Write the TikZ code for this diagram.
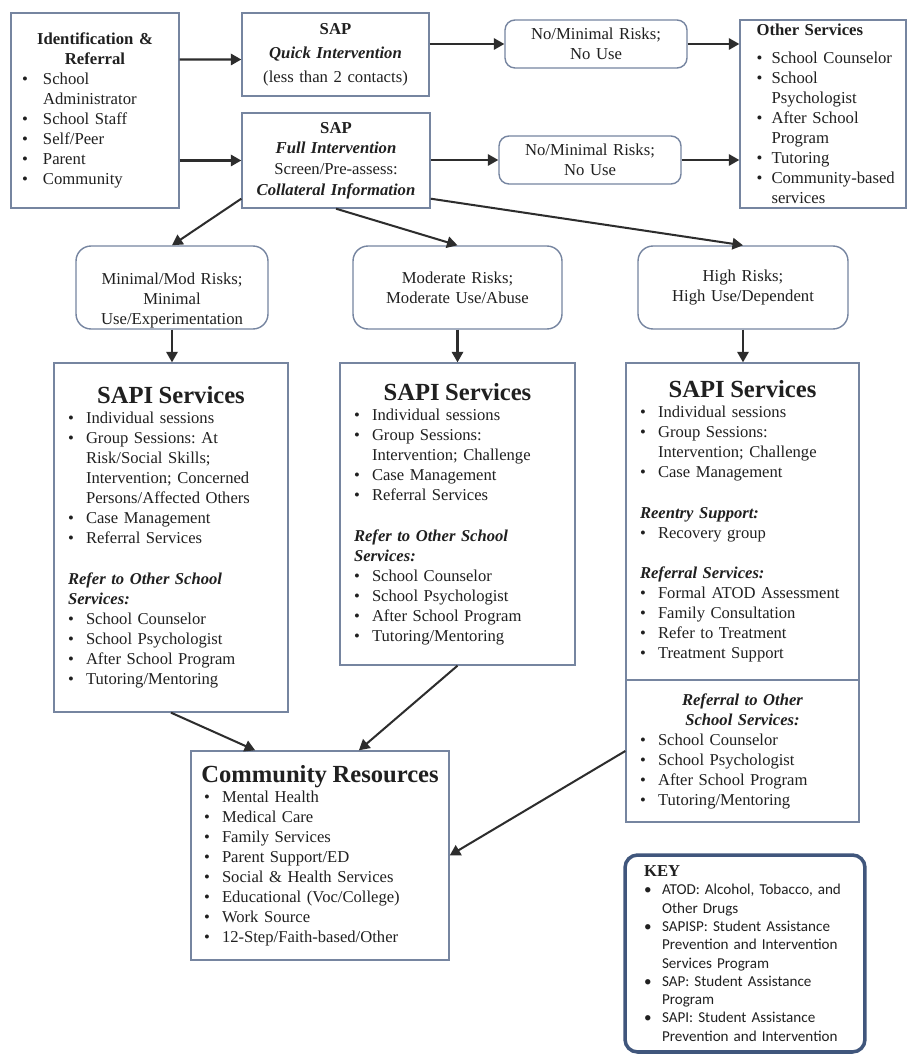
\documentclass[tikz,border=0pt]{standalone}
\usepackage{fontspec}
\setmainfont{Liberation Serif}
\newfontfamily\keyfont{Carlito}
\usetikzlibrary{arrows,arrows.meta}
\usetikzlibrary{calc}
\definecolor{pfeil}{RGB}{45,45,45}
\definecolor{rahmen}{RGB}{118,133,160}
\definecolor{keyrahmen}{RGB}{64,86,124}
\definecolor{schrift}{RGB}{32,32,32}

\newcommand{\itm}[1][0.36cm]{\makebox[#1][l]{\textbullet}}
\newcommand{\hd}[1]{\hspace*{-\leftskip}\makebox[\linewidth]{#1}}
\newcommand{\titel}{\fontsize{14}{16}\selectfont\bfseries}
\newcommand{\fklein}{\fontsize{9.5}{11.38}\selectfont}
\newcommand{\fnorm}{\fontsize{9.45}{11.38}\selectfont}
\newcommand{\fkey}{\keyfont\fontsize{8.6}{10.4}\selectfont}

\tikzset{
  kasten/.style={draw=rahmen, line width=0.8pt, fill=white, inner sep=0pt, align=left, font=\fnorm},
  rkasten/.style={kasten, rounded corners=0.2cm, align=center, font=\fklein},
  keykasten/.style={kasten, draw=keyrahmen, line width=2pt, rounded corners=0.25cm, font=\fkey},
  lm/.style={execute at begin node={\leftskip=#1\relax}},
  verbinder/.style={pfeil, line width=1.15pt, -{Triangle[length=6pt,width=6.5pt]}},
}

\begin{document}
\frenchspacing
\begin{tikzpicture}[x=0.02cm, y=-0.02cm, text=schrift]

	\fill[white] (0,0) rectangle (909,1057);
	\useasboundingbox (0,0) rectangle (909,1057);

	% obere Reihe
	\node[kasten, font=\fklein, lm=0.22cm, text width=3.36cm, minimum height=3.9cm] (ident) at (95,110.5) {%
		\hd{\textbf{Identification \&}}\\
		\hd{\textbf{Referral}}\\
		\itm[0.42cm]School\\
		\hspace*{0.42cm}Administrator\\
		\itm[0.42cm]School Staff\\
		\itm[0.42cm]Self/Peer\\
		\itm[0.42cm]Parent\\
		\itm[0.42cm]Community};
	\node[kasten, align=center, font=\fontsize{9.5}{13.6}\selectfont, text width=3.74cm, minimum height=1.66cm] (quick) at (335.5,54.5) {%
		\textbf{SAP}\\
		\textbf{\textit{Quick Intervention}}\\
		(less than 2 contacts)};
	\node[kasten, align=center, font=\fontsize{9.5}{11.8}\selectfont, text width=3.76cm, minimum height=1.9cm] (full) at (336,160.5) {%
		\textbf{SAP}\\
		\textbf{\textit{Full Intervention}}\\
		Screen/Pre-assess:\\
		\textbf{\textit{Collateral Information}}};
	\node[rkasten, text width=3.64cm, minimum height=0.96cm] (nomin1) at (596,44) {No/Minimal Risks;\\ No Use};
	\node[rkasten, text width=3.64cm, minimum height=0.96cm] (nomin2) at (590,160) {No/Minimal Risks;\\ No Use};
	\node[kasten, font=\fklein, lm=0.33cm, text width=3.32cm, minimum height=3.76cm] (other) at (823,114) {%
		\textbf{Other Services}\\[4.5pt]
		\itm[0.3cm]School Counselor\\
		\itm[0.3cm]School\\
		\hspace*{0.3cm}Psychologist\\
		\itm[0.3cm]After School\\
		\hspace*{0.3cm}Program\\
		\itm[0.3cm]Tutoring\\
		\itm[0.3cm]Community-based\\
		\hspace*{0.3cm}services};

	% Risiko-Stufen
	\node[rkasten, rounded corners=0.3cm, text width=3.84cm, minimum height=1.66cm] (mild) at (172,287.5) {%
		\rule{0pt}{21.5pt}Minimal/Mod Risks;\\ Minimal\\ Use/Experimentation};
	\node[rkasten, rounded corners=0.3cm, text width=4.18cm, minimum height=1.66cm] (moder) at (457.5,287.5) {Moderate Risks;\\ Moderate Use/Abuse};
	\node[rkasten, rounded corners=0.3cm, text width=4.2cm, minimum height=1.66cm] (high) at (743,287.5) {High Risks;\\ High Use/Dependent};

	% SAPI
	\node[kasten, lm=0.28cm, text width=4.68cm, minimum height=6.98cm] (sapiA) at (171,537.5) {%
		\hd{\titel SAPI Services}\\
		\itm Individual sessions\\
		\itm Group Sessions: At\\
		\hspace*{0.36cm}Risk/Social Skills;\\
		\hspace*{0.36cm}Intervention; Concerned\\
		\hspace*{0.36cm}Persons/Affected Others\\
		\itm Case Management\\
		\itm Referral Services\\[12pt]
		\textbf{\textit{Refer to Other School}}\\
		\textbf{\textit{Services:}}\\
		\itm School Counselor\\
		\itm School Psychologist\\
		\itm After School Program\\
		\itm Tutoring/Mentoring};
	\node[kasten, lm=0.28cm, text width=4.7cm, minimum height=6.04cm] (sapiB) at (457.5,514) {%
		\hd{\titel SAPI Services}\\
		\itm Individual sessions\\
		\itm Group Sessions:\\
		\hspace*{0.36cm}Intervention; Challenge\\
		\itm Case Management\\
		\itm Referral Services\\[12pt]
		\textbf{\textit{Refer to Other School}}\\
		\textbf{\textit{Services:}}\\
		\itm School Counselor\\
		\itm School Psychologist\\
		\itm After School Program\\
		\itm Tutoring/Mentoring};
	\node[kasten, lm=0.28cm, text width=4.66cm, minimum height=6.34cm] (sapiC) at (742.5,521.5) {%
		\hd{\titel SAPI Services}\\
		\itm Individual sessions\\
		\itm Group Sessions:\\
		\hspace*{0.36cm}Intervention; Challenge\\
		\itm Case Management\\[12pt]
		\textbf{\textit{Reentry Support:}}\\
		\itm Recovery group\\[11.5pt]
		\textbf{\textit{Referral Services:}}\\
		\itm Formal ATOD Assessment\\
		\itm Family Consultation\\
		\itm Refer to Treatment\\
		\itm Treatment Support};
	\node[kasten, lm=0.28cm, text width=4.66cm, minimum height=2.84cm] (sapiCref) at (742.5,751) {%
		\hd{\textbf{\textit{Referral to Other}}}\\
		\hd{\textbf{\textit{School Services:}}}\\
		\itm School Counselor\\
		\itm School Psychologist\\
		\itm After School Program\\
		\itm Tutoring/Mentoring};

	% Community und Key
	\node[kasten, lm=0.26cm, text width=5.16cm, minimum height=4.18cm] (comm) at (320,855.5) {%
		\hd{\titel Community Resources}\\
		\itm Mental Health\\
		\itm Medical Care\\
		\itm Family Services\\
		\itm Parent Support/ED\\
		\itm Social \& Health Services\\
		\itm Educational (Voc/College)\\
		\itm Work Source\\
		\itm 12-Step/Faith-based/Other};
	\node[keykasten, lm=0.38cm, text width=4.8cm, minimum height=3.94cm] (key) at (745,953.5) {%
		{\rmfamily\fontsize{9.5}{10.4}\selectfont\bfseries KEY}\\
		\itm ATOD: Alcohol, Tobacco, and\\
		\hspace*{0.36cm}Other Drugs\\
		\itm SAPISP: Student Assistance\\
		\hspace*{0.36cm}Prevention and Intervention\\
		\hspace*{0.36cm}Services Program\\
		\itm SAP: Student Assistance\\
		\hspace*{0.36cm}Program\\
		\itm SAPI: Student Assistance\\
		\hspace*{0.36cm}Prevention and Intervention};

	% Pfeile
	\draw[verbinder] (ident.east |- quick.west) ++(0,5) -- ([yshift=-0.1cm]quick.west);
	\draw[verbinder] (ident.east |- full.west) -- (full.west);
	\draw[verbinder] (quick.east |- nomin1.west) -- (nomin1.west);
	\draw[verbinder] (full.east |- nomin2.west) -- (nomin2.west);
	\draw[verbinder] (nomin1.east) -- (nomin1.east -| other.west);
	\draw[verbinder] (nomin2.east) -- (nomin2.east -| other.west);
	\draw[verbinder] ([yshift=0.2cm]full.south west) -- (mild.north);
	\draw[verbinder] (full.south) -- (moder.north);
	\draw[verbinder] ([yshift=0.2cm]full.south east) -- (high.north);
	\draw[verbinder] (mild.south) -- (mild.south |- sapiA.north);
	\draw[verbinder] (moder.south) -- (moder.south |- sapiB.north);
	\draw[verbinder] (high.south) -- (high.south |- sapiC.north);
	\draw[verbinder] (sapiA.south) -- ($(comm.north west)!0.25!(comm.north east)$);
	\draw[verbinder] (sapiB.south) -- ($(comm.north west)!0.65!(comm.north east)$);
	\draw[verbinder] (sapiCref.west) -- (comm.east);

\end{tikzpicture}
\end{document}
